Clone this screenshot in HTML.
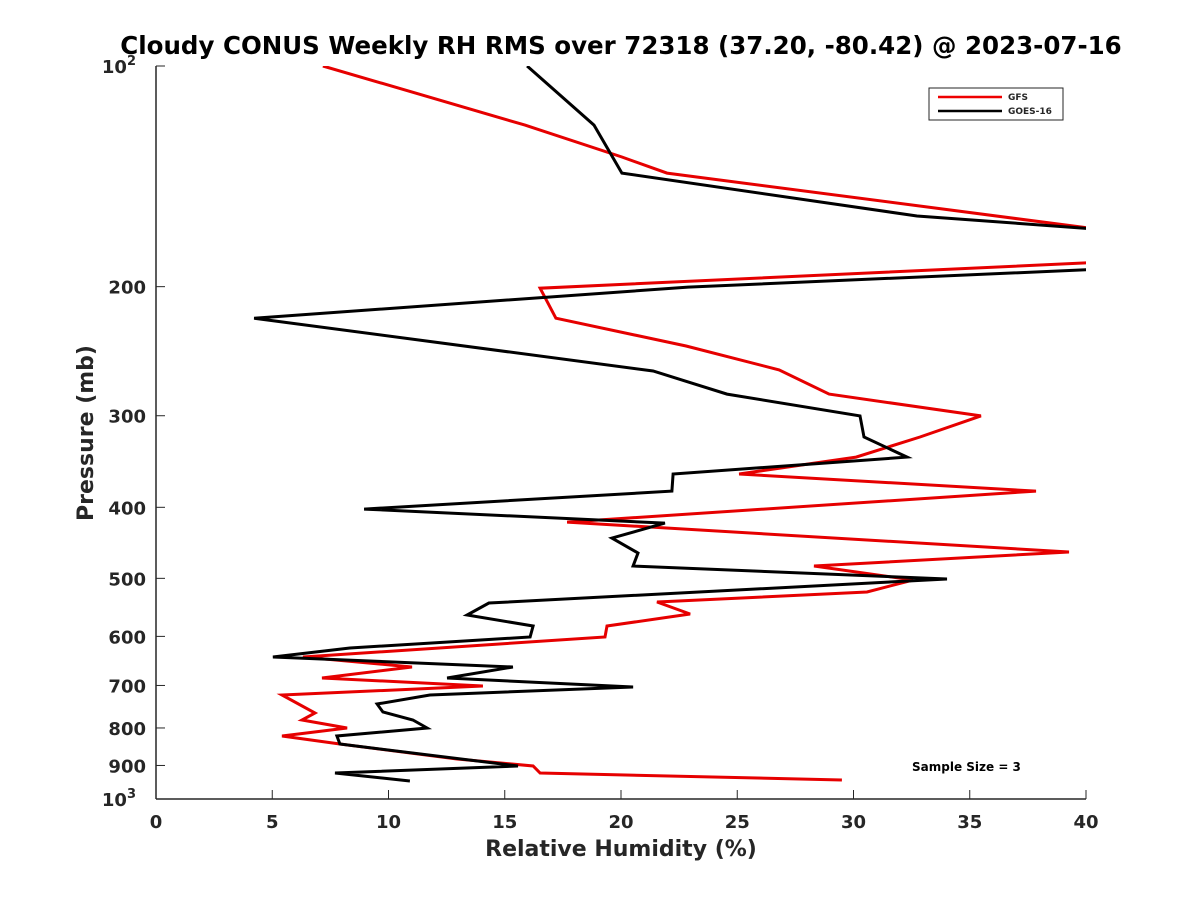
<!DOCTYPE html>
<html><head><meta charset="utf-8"><style>
body{margin:0;background:#fff;}
svg text{font-family:"DejaVu Sans","Liberation Sans",sans-serif;font-weight:bold;fill:#262626;}
</style></head><body>
<svg id="chart" width="1200" height="900" xmlns="http://www.w3.org/2000/svg">
<defs><clipPath id="pc"><rect x="156" y="66" width="930" height="733"/></clipPath></defs>
<text x="621" y="54" text-anchor="middle" font-size="24.5" style="fill:#000">Cloudy CONUS Weekly RH RMS over 72318 (37.20, -80.42) @ 2023-07-16</text>
<g id="axes"></g>
<g id="series" clip-path="url(#pc)"></g>
<g>
<rect x="929" y="88" width="134" height="32" fill="#fff" stroke="#262626" stroke-width="1"/>
<line x1="938" y1="97" x2="1002" y2="97" stroke="#e00" stroke-width="2.5"/>
<text x="1008" y="100" font-size="9">GFS</text>
<line x1="938" y1="111" x2="1002" y2="111" stroke="#000" stroke-width="2.5"/>
<text x="1008" y="114" font-size="9">GOES-16</text>
</g>
<text x="912" y="771" font-size="12" style="fill:#000">Sample Size = 3</text>
<text x="621" y="856" text-anchor="middle" font-size="22">Relative Humidity (%)</text>
<text transform="translate(93,433) rotate(-90)" text-anchor="middle" font-size="22">Pressure (mb)</text>
</svg>
<script>
const xTicks=[0,5,10,15,20,25,30,35,40];
const yTicks=[100,200,300,400,500,600,700,800,900,1000];
const yTickLabels=["10^2","200","300","400","500","600","700","800","900","10^3"];
const gfsRH=[7.18,15.87,20.04,21.98,42.75,42.75,16.52,17.2,22.8,26.8,28.95,35.48,32.86,30.11,25.08,37.85,17.68,39.27,28.3,32.56,30.58,21.55,22.97,19.4,19.31,6.32,11.01,7.14,14.06,5.42,6.84,6.28,8.22,5.42,7.91,12.95,16.22,16.52,29.5];
const gfsP=[100,120.4,133.1,140,170.6,183.9,201,220.8,241,259.8,280.3,300.2,320.7,341.6,360.3,380.1,419,460.3,481,502.6,521.9,538.6,559.3,580.8,601.2,640.2,660.6,683.8,701.2,721.3,763.3,780.2,800,820.5,841.4,882,901.6,921.6,942.2];
const goesRH=[15.96,18.84,20.04,32.73,42.75,42.75,22.88,4.22,21.38,24.56,30.28,30.45,32.3,22.24,22.19,8.95,21.89,19.61,20.73,20.52,34.02,14.32,13.38,16.22,16.09,8.34,5.03,15.35,12.52,20.52,11.78,9.51,9.76,11.05,11.66,7.78,7.91,15.57,7.7,10.92];
const goesP=[100,120.4,140,160.2,169,188,200.3,220.8,260.7,280.3,300.2,320.7,341.6,360.3,380.1,402.2,420.4,440.6,461.8,481,501.1,540.3,561.1,580.8,601.2,622.3,640.2,660.6,683.8,703.4,721.3,742,760.9,780.2,800,820.5,841.4,901.6,921.6,945];
const X0=156,X1=1086,Y0=66,Y1=799;
const sx=v=>X0+(v-0)/40*(X1-X0);
const sy=p=>Y0+Math.log10(p/100)*(Y1-Y0);
const NS="http://www.w3.org/2000/svg";
const axes=document.getElementById('axes');
const series=document.getElementById('series');
function mk(t,a,parent){const e=document.createElementNS(NS,t);for(const k in a)e.setAttribute(k,a[k]);parent.appendChild(e);return e;}
const xl=mk('line',{x1:X0,y1:Y1,x2:X1,y2:Y1,stroke:'#262626','stroke-width':1.5},axes);


const yl=mk('line',{x1:X0,y1:Y0,x2:X0,y2:Y1,stroke:'#262626','stroke-width':1.5},axes);


xTicks.forEach(v=>{
  const x=sx(v);
  const t=mk('line',{x1:x,y1:Y1,x2:x,y2:Y1-9,stroke:'#262626','stroke-width':1},axes);
  
  
  const l=mk('text',{x:x,y:Y1+29,'text-anchor':'middle','font-size':18},axes);
  l.textContent=v;
  
  
});
yTicks.forEach((p,i)=>{
  const y=sy(p);
  const t=mk('line',{x1:X0,y1:y,x2:X0+9,y2:y,stroke:'#262626','stroke-width':1},axes);
  
  
  const l=mk('text',{x:X0-10,y:y+7,'text-anchor':'end','font-size':18},axes);
  const s=yTickLabels[i];
  if(s.includes('^')){const [b,e]=s.split('^');l.textContent=b;const ts=mk('tspan',{dy:-8,'font-size':13},l);ts.textContent=e;l.setAttribute('x',X0-20);}
  else l.textContent=s;
  
  
});
function line(xs,ps,color,name){
  const d=xs.map((v,i)=>(i?'L':'M')+sx(v).toFixed(1)+','+sy(ps[i]).toFixed(1)).join(' ');
  const e=mk('path',{d:d,fill:'none',stroke:color,'stroke-width':3,'stroke-linejoin':'miter'},series);
  
  
}
line(gfsRH,gfsP,'#e60000','gfs-line');
line(goesRH,goesP,'#000','goes16-line');
</script>
</body></html>
